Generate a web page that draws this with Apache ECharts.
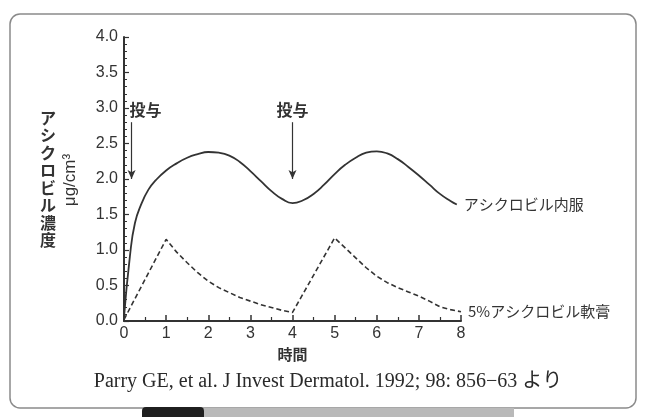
<!DOCTYPE html>
<html>
<head>
<meta charset="utf-8">
<script src="https://cdn.jsdelivr.net/npm/echarts@6/dist/echarts.min.js"></script>
<style>
  html, body { margin: 0; padding: 0; background: #ffffff; }
  #chart { width: 645px; height: 417px; }
</style>
</head>
<body>
<div id="chart"></div>
<script>
// Time (hours) and plasma concentration (μg/cm³)
const oralTime = [0, 0.14, 0.26, 0.42, 0.58, 0.75, 1.0, 1.25, 1.5, 1.75, 2.0, 2.25, 2.5, 2.75, 3.0, 3.25, 3.5, 3.75, 4.0, 4.25, 4.5, 4.75, 5.0, 5.25, 5.5, 5.75, 6.0, 6.25, 6.5, 6.75, 7.0, 7.25, 7.5, 7.75, 7.9];
const oralConc = [0.05, 0.91, 1.38, 1.66, 1.85, 1.98, 2.12, 2.22, 2.30, 2.35, 2.38, 2.37, 2.33, 2.24, 2.11, 1.97, 1.83, 1.72, 1.66, 1.70, 1.79, 1.92, 2.07, 2.20, 2.30, 2.37, 2.39, 2.36, 2.28, 2.17, 2.05, 1.92, 1.79, 1.69, 1.64];

const creamTime = [0, 1, 1.25, 1.5, 1.75, 2, 2.25, 2.5, 2.75, 3, 3.25, 3.5, 3.75, 4, 5, 5.25, 5.5, 5.75, 6, 6.25, 6.5, 6.75, 7, 7.25, 7.5, 7.75, 8];
const creamConc = [0.02, 1.15, 0.97, 0.82, 0.68, 0.56, 0.47, 0.40, 0.33, 0.28, 0.23, 0.19, 0.15, 0.12, 1.17, 1.03, 0.89, 0.75, 0.63, 0.54, 0.47, 0.41, 0.35, 0.28, 0.20, 0.16, 0.13];

const oralName = 'アシクロビル内服';
const creamName = '5%アシクロビル軟膏';

// Dosing times: arrow x, arrow top and tip concentration
const doseTimes = [0.18, 4.0];
const doseTop = 2.8;
const doseTip = 2.0;
const doseLabel = '投与';

const xTicks = { min: 0, max: 8, interval: 1 };
const yTicks = { min: 0, max: 4, interval: 0.5 };

const jp = '"Noto Sans CJK JP", "Noto Sans", sans-serif';
const num = '"Liberation Sans", Arial, sans-serif';
const ink = '#333333';

const zip = (xs, ys) => xs.map((x, i) => [x, ys[i]]);

const chart = echarts.init(document.getElementById('chart'));

chart.setOption({
  backgroundColor: '#ffffff',
  animation: false,
  grid: { left: 124, right: 184, top: 37, bottom: 96, containLabel: false },
  xAxis: {
    type: 'value',
    min: xTicks.min, max: xTicks.max, interval: xTicks.interval,
    name: '時間',
    nameLocation: 'middle',
    nameGap: 24,
    nameTextStyle: { fontFamily: jp, fontSize: 15, color: ink, fontWeight: 'bold' },
    axisLine: { show: true, lineStyle: { color: ink, width: 2 } },
    axisTick: { show: true, inside: true, length: 6, lineStyle: { color: ink, width: 1.5 } },
    minorTick: { show: true, splitNumber: 2, length: 4, lineStyle: { color: ink, width: 1.2 } },
    splitLine: { show: false },
    axisLabel: { fontFamily: num, fontSize: 16, color: ink, margin: 5 }
  },
  yAxis: {
    type: 'value',
    min: yTicks.min, max: yTicks.max, interval: yTicks.interval,
    name: 'アシクロビル濃度'.split('').join('\n'),
    nameLocation: 'middle',
    nameRotate: 0,
    nameGap: 68,
    nameTextStyle: { fontFamily: jp, fontSize: 16, color: ink, lineHeight: 17.5, fontWeight: 'bold' },
    axisLine: { show: true, lineStyle: { color: ink, width: 2 } },
    axisTick: { show: true, inside: true, length: 5, lineStyle: { color: ink, width: 1.2 } },
    minorTick: { show: true, splitNumber: 5, length: 3, lineStyle: { color: ink, width: 1 } },
    splitLine: { show: false },
    axisLabel: {
      fontFamily: num, fontSize: 16, color: ink, margin: 6,
      formatter: v => v.toFixed(1)
    }
  },
  series: [
    {
      name: oralName,
      type: 'line',
      data: zip(oralTime, oralConc),
      smooth: 0.5,
      symbol: 'none',
      lineStyle: { color: ink, width: 1.8 },
      endLabel: {
        show: true, formatter: '{a}', distance: 7,
        fontFamily: jp, fontSize: 15, color: ink
      },
      markLine: {
        silent: true,
        symbol: ['none', 'arrow'],
        symbolSize: [6, 9],
        lineStyle: { color: ink, width: 1.2, type: 'solid' },
        label: {
          show: true, position: 'start', formatter: doseLabel,
          fontFamily: jp, fontSize: 16, color: ink, fontWeight: 'bold', distance: 4
        },
        data: doseTimes.map((t, i) => [
          {
            coord: [t, doseTop],
            label: i === 0 ? { offset: [14, 0] } : {}
          },
          { coord: [t, doseTip] }
        ])
      }
    },
    {
      name: creamName,
      type: 'line',
      data: zip(creamTime, creamConc),
      smooth: false,
      symbol: 'none',
      lineStyle: { color: ink, width: 1.6, type: [5, 3] },
      endLabel: {
        show: true, formatter: '{a}', distance: 7,
        fontFamily: jp, fontSize: 15, color: ink
      }
    }
  ],
  graphic: [
    {
      type: 'rect', z: -10, silent: true,
      shape: { x: 10, y: 14, width: 626, height: 394, r: 10 },
      style: { fill: '#ffffff', stroke: '#8a8a8a', lineWidth: 1.5 }
    },
    {
      type: 'text', silent: true,
      x: 70, y: 180, rotation: Math.PI / 2,
      style: {
        text: 'μg/cm³', fontFamily: num, fontSize: 17,
        fill: ink, align: 'center', verticalAlign: 'middle'
      }
    },
    {
      type: 'text', silent: true,
      x: 328, y: 382,
      style: {
        text: 'Parry GE, et al. J Invest Dermatol. 1992; 98: 856−63 より',
        fontFamily: '"Liberation Serif", "Times New Roman", serif, "Noto Sans CJK JP"',
        fontSize: 20, fill: '#2a2a2a', align: 'center', verticalAlign: 'middle'
      }
    },
    {
      type: 'rect', silent: true,
      shape: { x: 142, y: 407, width: 62, height: 14, r: 4 },
      style: { fill: '#1f1f1f' }
    },
    {
      type: 'rect', silent: true,
      shape: { x: 204, y: 408, width: 310, height: 12 },
      style: { fill: '#b9b9b9' }
    }
  ]
});
</script>
</body>
</html>
